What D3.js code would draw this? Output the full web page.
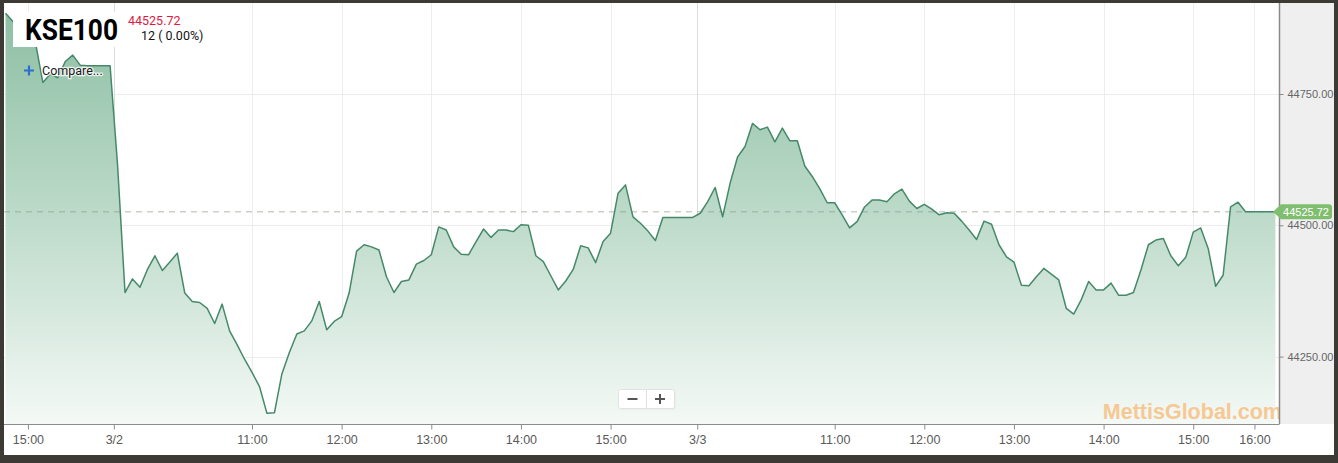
<!DOCTYPE html>
<html><head><meta charset="utf-8">
<script src="https://cdn.jsdelivr.net/npm/d3@7"></script>
<style>
html,body{margin:0;padding:0;background:#3d3935;}
svg{display:block;}
</style></head>
<body>
<svg id="chart" width="1338" height="463"></svg>
<script>
// ---- data (5-minute slots) ----
const symbol = "KSE100";
const lastPrice = 44525.72;
const changeText = "12 ( 0.00%)";
const values = [
44904,44888,44879,44868,44849,44772,44788,44781,44812,44824,
44805,44804,44804,44804,44804,44615,44372,44398,44382,44416,
44442,44414,44430,44447,44371,44355,44353,44342,44313,44350,
44299,44273,44245,44220,44193,44142,44143,44217,44258,44293,
44299,44318,44355,44301,44317,44326,44371,44451,44463,44459,
44453,44402,44372,44393,44396,44426,44433,44444,44497,44491,
44459,44445,44444,44469,44493,44477,44491,44491,44488,44501,
44500,44442,44431,44404,44377,44394,44416,44461,44457,44429,
44469,44485,44561,44577,44516,44504,44489,44471,44515,44515,
44515,44515,44515,44523,44545,44572,44516,44580,44630,44650,
44694,44682,44687,44659,44685,44661,44661,44613,44593,44570,
44543,44543,44520,44495,44507,44535,44548,44548,44545,44560,
44569,44546,44532,44540,44531,44520,44524,44523,44508,44491,
44473,44508,44502,44463,44440,44430,44386,44385,44402,44418,
44407,44396,44342,44331,44358,44393,44377,44377,44390,44367,
44367,44372,44415,44463,44472,44475,44442,44423,44439,44487,
44495,44456,44384,44405,44535,44544,44525.72,44525.72,44525.72,44525.72,
44525.72
];
const tickSlots  = [3, 14.5, 33, 45, 57, 69, 81, 92.6, 111, 123, 135, 147, 159, 167.2];
const tickLabels = ["15:00","3/2","11:00","12:00","13:00","14:00","15:00","3/3","11:00","12:00","13:00","14:00","15:00","16:00"];
const yTicks = [44250, 44500, 44750];
const yDomain = [44121.7, 44923.3];
const watermark = "MettisGlobal.com";

// ---- layout ----
const W = 1338, H = 463;
const plot = {left:4, right:1279.5, top:3, bottom:424};
const svg = d3.select("#chart");

const x = d3.scaleLinear().domain([0, values.length-1]).range([5.5, 1275.4]);
const y = d3.scaleLinear().domain(yDomain).range([plot.bottom, plot.top]);

// frame
svg.append("rect").attr("width",W).attr("height",H).attr("fill","#3d3935");
svg.append("rect").attr("x",4).attr("y",3).attr("width",1330).attr("height",452).attr("fill","#ffffff");
svg.append("rect").attr("x",1280).attr("y",3).attr("width",54).attr("height",plot.bottom-3).attr("fill","#efefef");

const defs = svg.append("defs");
defs.append("clipPath").attr("id","clip").append("rect")
  .attr("x",plot.left).attr("y",plot.top).attr("width",plot.right-plot.left).attr("height",plot.bottom-plot.top);
const grad = defs.append("linearGradient").attr("id","fillGrad")
  .attr("gradientUnits","userSpaceOnUse").attr("x1",0).attr("x2",0).attr("y1",plot.top).attr("y2",plot.bottom);
grad.append("stop").attr("offset",0).attr("stop-color","#8cbea2");
grad.append("stop").attr("offset",0.5).attr("stop-color","#bcdac9");
grad.append("stop").attr("offset",1).attr("stop-color","#f4f9f6");

const g = svg.append("g").attr("clip-path","url(#clip)");

// grid
g.selectAll("line.hg").data(yTicks).join("line")
  .attr("x1",plot.left).attr("x2",plot.right)
  .attr("y1",d=>Math.round(y(d))+0.5).attr("y2",d=>Math.round(y(d))+0.5)
  .attr("stroke","#ececec").attr("stroke-width",1);
g.selectAll("line.vg").data(tickSlots).join("line")
  .attr("x1",d=>Math.round(x(d))+0.5).attr("x2",d=>Math.round(x(d))+0.5)
  .attr("y1",plot.top).attr("y2",plot.bottom)
  .attr("stroke",(d,i)=>tickLabels[i].includes("/") ? "#dcdcdc" : "#ededed").attr("stroke-width",1);

// area + line
const pts = values.map((v,i)=>[i,v]);
g.append("path").datum(pts)
  .attr("d", d3.area().x(d=>x(d[0])).y0(plot.bottom).y1(d=>y(d[1])))
  .attr("fill","url(#fillGrad)");
g.append("line")
  .attr("x1",plot.left).attr("x2",1275)
  .attr("y1",y(lastPrice)).attr("y2",y(lastPrice))
  .attr("stroke","rgba(140,150,130,0.45)").attr("stroke-width",1.5).attr("stroke-dasharray","6,5");
g.append("path").datum(pts)
  .attr("d", d3.line().x(d=>x(d[0])).y(d=>y(d[1])))
  .attr("fill","none").attr("stroke","#46896a").attr("stroke-width",1.5).attr("stroke-linejoin","round");

// watermark
g.append("text").attr("x",1282).attr("y",419).attr("text-anchor","end")
  .attr("font-family","Liberation Sans, Arial, sans-serif").attr("font-weight","bold").attr("font-size",21.5)
  .attr("fill","#f7c58a").attr("opacity",0.9).text(watermark);

// x axis
const xAxis = d3.axisBottom(x).tickValues(tickSlots).tickFormat((d,i)=>tickLabels[i]).tickSize(5).tickPadding(6);
const xg = svg.append("g").attr("transform",`translate(0,${plot.bottom+0.5})`).call(xAxis);
xg.select(".domain").attr("d",`M${plot.left},0H${plot.right}`).attr("stroke","#8c8c8c");
xg.selectAll(".tick line").attr("stroke","#8c8c8c");
xg.selectAll(".tick text").attr("font-family","Liberation Sans, Arial, sans-serif").attr("font-size",12.5).attr("fill","#5a5a5a");

// y axis (right)
const yAxis = d3.axisRight(y).tickValues(yTicks).tickFormat(d3.format(".2f")).tickSize(4).tickPadding(4);
const yg = svg.append("g").attr("transform",`translate(${plot.right},0)`).call(yAxis);
yg.select(".domain").attr("d",`M0,${plot.top}V${plot.bottom}`).attr("stroke","#8a8a8a").attr("stroke-width",1.5);
yg.selectAll(".tick line").attr("stroke","#8a8a8a");
yg.selectAll(".tick text").attr("font-family","Liberation Sans, Arial, sans-serif").attr("font-size",11).attr("fill","#666");

// last price tag
const ty = y(lastPrice);
svg.append("path")
  .attr("d",`M1273,${ty} L1281,${ty-7.5} H1329 Q1332,${ty-7.5} 1332,${ty-4.5} V${ty+4.5} Q1332,${ty+7.5} 1329,${ty+7.5} H1281 Z`)
  .attr("fill","#80be6f");
svg.append("text").attr("x",1306).attr("y",ty+4).attr("text-anchor","middle")
  .attr("font-family","Liberation Sans, Arial, sans-serif").attr("font-size",11).attr("fill","#fff")
  .text(d3.format(".2f")(lastPrice));

// header
svg.append("rect").attr("x",13).attr("y",12).attr("width",105).attr("height",35).attr("fill","#fff");
svg.append("text").attr("x",25).attr("y",39.5)
  .attr("font-family","Roboto, sans-serif").attr("font-weight","bold").attr("font-size",29)
  .attr("textLength",93).attr("lengthAdjust","spacingAndGlyphs").attr("fill","#000").text(symbol);
svg.append("text").attr("x",128).attr("y",25)
  .attr("font-family","Roboto, sans-serif").attr("font-size",12.5).attr("fill","#e0193f")
  .text(d3.format(".2f")(lastPrice));
svg.append("text").attr("x",141).attr("y",39.5)
  .attr("font-family","Roboto, sans-serif").attr("font-size",12.5).attr("fill","#111")
  .text(changeText);

// compare
svg.append("path").attr("d","M24,70.5H34M29,65.5V75.5").attr("stroke","#2f6fd0").attr("stroke-width",2.2);
svg.append("text").attr("x",42).attr("y",75)
  .attr("font-family","Roboto, sans-serif").attr("font-size",12.5).attr("fill","#1a1a1a")
  .attr("stroke","#ffffff").attr("stroke-width",2.5).attr("stroke-opacity",0.8).attr("paint-order","stroke")
  .text("Compare...");

// zoom buttons
const zb = svg.append("g");
zb.append("rect").attr("x",619.5).attr("y",390.5).attr("width",56).attr("height",19).attr("rx",2)
  .attr("fill","#e6e6e6");
zb.append("rect").attr("x",618.5).attr("y",389.5).attr("width",56).attr("height",19).attr("rx",2)
  .attr("fill","#fff").attr("stroke","#e2e2e2");
zb.append("line").attr("x1",646.5).attr("x2",646.5).attr("y1",390).attr("y2",408).attr("stroke","#e2e2e2");
zb.append("path").attr("d","M627.5,399H637.5").attr("stroke","#555").attr("stroke-width",2);
zb.append("path").attr("d","M655,399H665M660,394V404").attr("stroke","#555").attr("stroke-width",2);
</script>
</body></html>
